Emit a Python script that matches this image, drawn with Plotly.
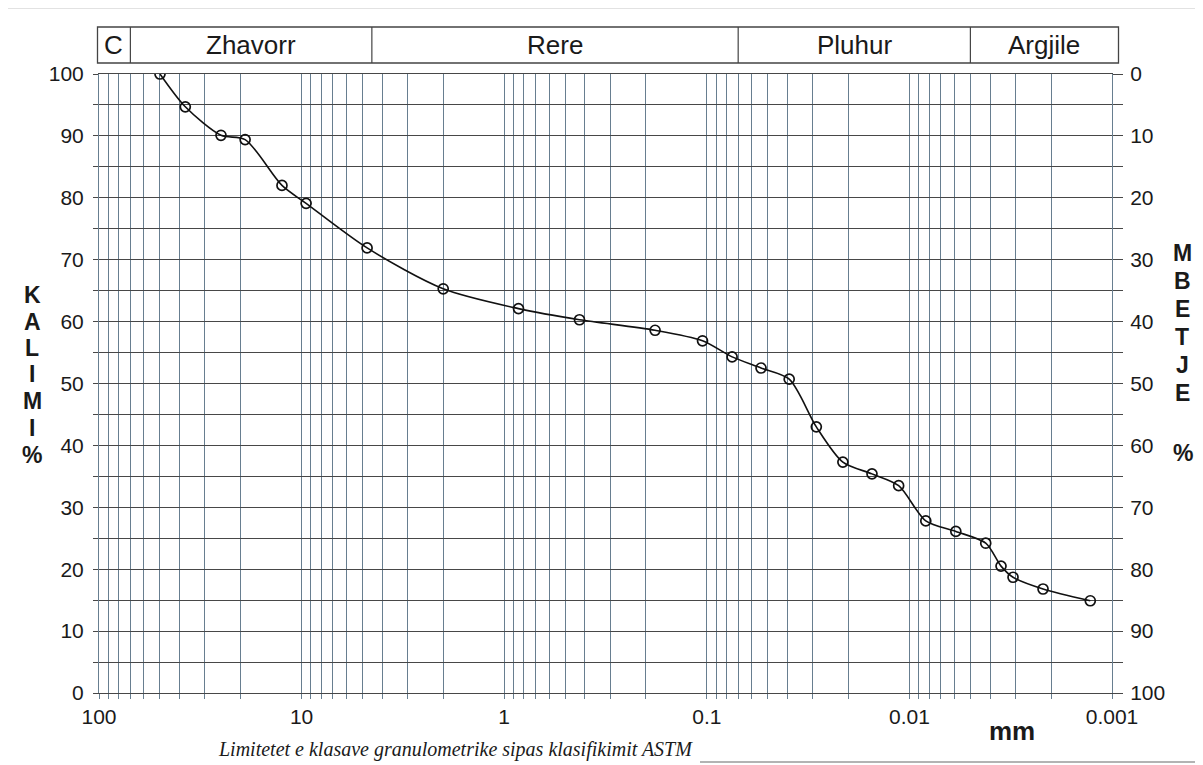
import numpy as np
import plotly.graph_objects as go

# ---------------- data ----------------
diam_mm = [50, 37.5, 25, 19, 12.5, 9.5, 4.75, 2.0, 0.85, 0.425, 0.18, 0.105, 0.075,
           0.054, 0.0392, 0.0288, 0.0213, 0.0153, 0.0113, 0.0083, 0.0059, 0.0042,
           0.00353, 0.00308, 0.00219, 0.00128]
passing_pct = [100, 94.7, 90.1, 89.4, 82.0, 79.1, 71.9, 65.3, 62.1, 60.3, 58.6, 56.9, 54.3,
               52.5, 50.7, 43.0, 37.3, 35.4, 33.5, 27.8, 26.1, 24.2, 20.5, 18.7, 16.8, 14.9]

x_tick_vals = [100, 10, 1, 0.1, 0.01, 0.001]
x_tick_text = ["100", "10", "1", "0.1", "0.01", "0.001"]

class_names = ["C", "Zhavorr", "Rere", "Pluhur", "Argjile"]
class_limits_mm = [70, 4.5, 0.07, 0.005]   # boundaries between classes (as drawn)

left_title = ["K", "A", "L", "I", "M", "I"]
right_title = ["M", "B", "E", "T", "J", "E"]
unit_label = "mm"
caption = "Limitetet e klasave granulometrike sipas klasifikimit ASTM"

# ---------------- layout constants ----------------
OFF = 8                      # page body margin
W, H = 1203 - OFF, 765 - OFF
# plot area in reference pixels
PX0, PX1, PY0, PY1 = 99, 1112, 74, 693
L, T = PX0 - OFF, PY0 - OFF
PW, PH = PX1 - PX0, PY1 - PY0
R, B = W - L - PW, H - T - PH

def px(xr):
    """reference x pixel -> paper"""
    return (xr - PX0) / PW

def py(yr):
    """reference y pixel -> paper"""
    return (PY1 - yr) / PH

FONT = "Liberation Sans, Arial, sans-serif"
HGRID = "#474747"
VGRID = "#677e90"
TXT = "#1a1a1a"

# log grid values (all minor lines)
grid_vals = [100]
for dec in [10, 1, 0.1, 0.01, 0.001]:
    for m in range(9, 0, -1):
        grid_vals.append(dec * m)
grid_text = []
for v in grid_vals:
    lbl = ""
    for t, s in zip(x_tick_vals, x_tick_text):
        if abs(v - t) / t < 1e-9:
            lbl = s
    grid_text.append(lbl)

y5 = list(range(0, 101, 5))
y5_text = [str(v) if v % 10 == 0 else "" for v in y5]

fig = go.Figure()
fig.add_trace(go.Scatter(
    x=diam_mm, y=passing_pct, mode="lines+markers",
    line=dict(color="#111111", width=1.6, shape="spline", smoothing=0.8),
    marker=dict(symbol="circle-open", size=10, color="#111111", line=dict(width=1.7)),
    showlegend=False, hoverinfo="x+y",
))
fig.add_trace(go.Scatter(x=[100], y=[0], yaxis="y2", mode="markers",
                         marker=dict(opacity=0), showlegend=False, hoverinfo="skip"))

fig.update_layout(
    width=W, height=H,
    margin=dict(l=L, r=R, t=T, b=B, pad=0),
    paper_bgcolor="white", plot_bgcolor="white",
    font=dict(family=FONT, color=TXT),
    xaxis=dict(
        type="log", range=[2, -3], tickmode="array",
        tickvals=grid_vals, ticktext=grid_text,
        showgrid=True, gridcolor=VGRID, gridwidth=1,
        ticks="outside", ticklen=5, tickcolor=VGRID, tickwidth=1,
        tickfont=dict(size=21, family=FONT, color=TXT),
        ticklabelstandoff=0,
        showline=True, linecolor=HGRID, linewidth=1.2, mirror=True,
        zeroline=False,
    ),
    yaxis=dict(
        range=[0, 100], tickmode="array", tickvals=y5, ticktext=y5_text,
        showgrid=True, gridcolor=HGRID, gridwidth=1.1,
        ticks="outside", ticklen=5, tickcolor=HGRID,
        tickfont=dict(size=21, family=FONT, color=TXT),
        ticklabelstandoff=5,
        showline=True, linecolor=VGRID, linewidth=1, mirror=True,
        zeroline=False,
    ),
    yaxis2=dict(
        range=[100, 0], overlaying="y", side="right", tickmode="array",
        tickvals=y5, ticktext=y5_text,
        showgrid=False, ticks="outside", ticklen=10, tickcolor=HGRID,
        tickfont=dict(size=21, family=FONT, color=TXT),
        ticklabelstandoff=3, zeroline=False, showline=False,
    ),
)

shapes = []
hdr_top, hdr_bot = py(27), py(63)
shapes.append(dict(type="rect", xref="paper", yref="paper", x0=px(97.5), x1=px(1118.5),
                   y0=hdr_bot, y1=hdr_top, line=dict(color="#444", width=1.3)))
for lim in class_limits_mm:
    shapes.append(dict(type="line", xref="x", yref="paper", x0=lim, x1=lim,
                       y0=hdr_bot, y1=hdr_top, line=dict(color="#444", width=1.2)))
# scan page borders
shapes.append(dict(type="line", xref="paper", yref="paper", x0=px(OFF), x1=px(1203),
                   y0=py(7.5), y1=py(7.5), line=dict(color="#8a8a8a", width=1.5)))
shapes.append(dict(type="line", xref="paper", yref="paper", x0=px(700), x1=px(1203),
                   y0=py(762), y1=py(762), line=dict(color="#9a9a9a", width=1.5)))

annotations = []
left_edge = 2 + (PX0 - 97.5) / PW * 5
right_edge = -3 - (1118.5 - PX1) / PW * 5
bounds = [left_edge] + [float(np.log10(v)) for v in class_limits_mm] + [right_edge]
for i, name in enumerate(class_names):
    annotations.append(dict(x=(bounds[i] + bounds[i + 1]) / 2, y=(hdr_top + hdr_bot) / 2,
                            xref="x", yref="paper", text=name, showarrow=False,
                            xanchor="center", yanchor="middle",
                            font=dict(size=26, family=FONT, color=TXT)))

ly = [295, 322, 348, 374, 401, 428]
for ch, yy in zip(left_title, ly):
    annotations.append(dict(x=px(32), y=py(yy), xref="paper", yref="paper", text=f"<b>{ch}</b>",
                            showarrow=False, xanchor="center", yanchor="middle",
                            font=dict(size=23, family=FONT, color=TXT)))
annotations.append(dict(x=px(32), y=py(455), xref="paper", yref="paper", text="<b>%</b>",
                        showarrow=False, xanchor="center", yanchor="middle",
                        font=dict(size=23, family=FONT, color=TXT)))
ry = [253, 281, 309, 337, 365, 393]
for ch, yy in zip(right_title, ry):
    annotations.append(dict(x=px(1182), y=py(yy), xref="paper", yref="paper", text=f"<b>{ch}</b>",
                            showarrow=False, xanchor="center", yanchor="middle",
                            font=dict(size=23, family=FONT, color=TXT)))
annotations.append(dict(x=px(1183), y=py(453), xref="paper", yref="paper", text="<b>%</b>",
                        showarrow=False, xanchor="center", yanchor="middle",
                        font=dict(size=23, family=FONT, color=TXT)))
annotations.append(dict(x=px(1012), y=py(731), xref="paper", yref="paper", text=f"<b>{unit_label}</b>",
                        showarrow=False, xanchor="center", yanchor="middle",
                        font=dict(size=26, family=FONT, color=TXT)))
annotations.append(dict(x=px(455), y=py(749), xref="paper", yref="paper", text=f"<i>{caption}</i>",
                        showarrow=False, xanchor="center", yanchor="middle",
                        font=dict(size=20, family="Liberation Serif, Times New Roman, serif", color=TXT)))

fig.update_layout(shapes=shapes, annotations=annotations)
fig.write_html("out.html")
